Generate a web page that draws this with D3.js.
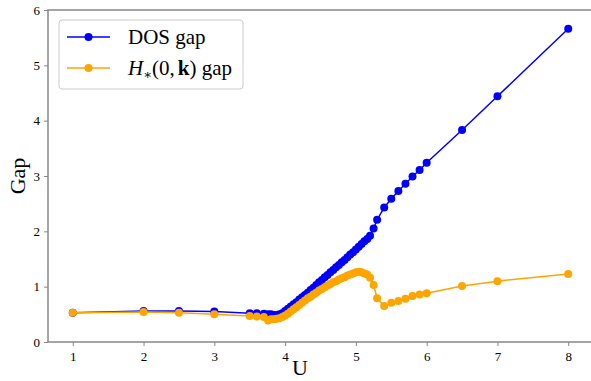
<!DOCTYPE html>
<html>
<head>
<meta charset="utf-8">
<script src="https://cdn.jsdelivr.net/npm/d3@7"></script>
<style>
  body { margin: 0; background: #fff; }
  svg { display: block; }
</style>
</head>
<body>
<svg id="chart" width="591" height="381"></svg>
<script>
// U values (x axis)
const uValues = [1, 2, 2.5, 3, 3.5, 3.6, 3.7,
  3.76, 3.80, 3.84, 3.88, 3.92, 3.96, 4.00, 4.04, 4.08, 4.12, 4.16, 4.20,
  4.24, 4.28, 4.32, 4.36, 4.40, 4.44, 4.48, 4.52, 4.56, 4.60, 4.64, 4.68,
  4.72, 4.76, 4.80, 4.84, 4.88, 4.92, 4.96, 5.00, 5.04, 5.08, 5.12, 5.16,
  5.20, 5.25, 5.30, 5.40, 5.5, 5.6, 5.7, 5.8, 5.9, 6.0, 6.5, 7, 8];

// DOS gap
const dosGap = [0.53, 0.56, 0.56, 0.55, 0.52, 0.52, 0.51,
  0.50, 0.50, 0.49, 0.49, 0.50, 0.52, 0.56, 0.60, 0.64, 0.68, 0.72, 0.77,
  0.81, 0.85, 0.89, 0.94, 0.98, 1.03, 1.08, 1.12, 1.17, 1.21, 1.26, 1.30,
  1.35, 1.39, 1.44, 1.48, 1.53, 1.58, 1.62, 1.67, 1.72, 1.77, 1.82, 1.86,
  1.92, 2.05, 2.21, 2.43, 2.59, 2.73, 2.86, 2.99, 3.11, 3.24, 3.83, 4.44, 5.66];

// H*(0,k) gap
const hGap = [0.53, 0.54, 0.53, 0.50, 0.47, 0.46, 0.45,
  0.39, 0.41, 0.41, 0.42, 0.43, 0.45, 0.48, 0.51, 0.55, 0.59, 0.63, 0.67,
  0.71, 0.75, 0.79, 0.82, 0.86, 0.89, 0.93, 0.96, 0.99, 1.02, 1.05, 1.08,
  1.10, 1.13, 1.15, 1.17, 1.20, 1.22, 1.24, 1.26, 1.27, 1.26, 1.24, 1.22,
  1.16, 1.03, 0.79, 0.65, 0.71, 0.74, 0.78, 0.83, 0.86, 0.88, 1.01, 1.10, 1.23];

const xTicks = [1, 2, 3, 4, 5, 6, 7, 8];
const yTicks = [0, 1, 2, 3, 4, 5, 6];

const seriesNames = ["DOS gap", "H*(0,k) gap"];
const seriesColors = ["#0000ff", "#ffa500"];

const svg = d3.select("#chart");
const serif = "Liberation Serif, DejaVu Serif, serif";

// plot area (right edge runs past the window, like the original)
const plot = { left: 48, right: 593, top: 10, bottom: 342 };

const xScale = d3.scaleLinear().domain([0.65, 8.35]).range([plot.left, plot.right]);
const yScale = d3.scaleLinear().domain([0, 6]).range([plot.bottom, plot.top]);

// frame
svg.append("rect")
  .attr("x", plot.left).attr("y", plot.top)
  .attr("width", plot.right - plot.left).attr("height", plot.bottom - plot.top)
  .attr("fill", "none")
  .attr("stroke", "#888")
  .attr("stroke-width", 1.5);

// axes
const xAxis = svg.append("g")
  .attr("transform", "translate(0," + plot.bottom + ")")
  .call(d3.axisBottom(xScale).tickValues(xTicks).tickSize(4).tickPadding(6).tickFormat(d3.format("d")));
const yAxis = svg.append("g")
  .attr("transform", "translate(" + plot.left + ",0)")
  .call(d3.axisLeft(yScale).tickValues(yTicks).tickSize(4).tickPadding(4).tickFormat(d3.format("d")));
[xAxis, yAxis].forEach(a => {
  a.attr("font-family", serif).attr("font-size", 13);
  a.select(".domain").remove();
  a.selectAll(".tick line").attr("stroke", "#888").attr("stroke-width", 1);
  a.selectAll(".tick text").attr("fill", "#000");
});

// axis labels
svg.append("text")
  .attr("x", 300)
  .attr("y", 375)
  .attr("text-anchor", "middle")
  .attr("font-family", serif)
  .attr("font-size", 22)
  .text("U");

svg.append("text")
  .attr("transform", "translate(25," + ((plot.top + plot.bottom) / 2) + ") rotate(-90)")
  .attr("text-anchor", "middle")
  .attr("font-family", serif)
  .attr("font-size", 22)
  .text("Gap");

// lines + markers
const line = d3.line()
  .x((d, i) => xScale(uValues[i]))
  .y(d => yScale(d));

[dosGap, hGap].forEach((vals, s) => {
  const g = svg.append("g");
  g.append("path")
    .datum(vals)
    .attr("fill", "none")
    .attr("stroke", seriesColors[s])
    .attr("stroke-width", 1.5)
    .attr("d", line);
  g.selectAll("circle")
    .data(vals)
    .enter()
    .append("circle")
    .attr("cx", (d, i) => xScale(uValues[i]))
    .attr("cy", d => yScale(d))
    .attr("r", 4)
    .attr("fill", seriesColors[s]);
});

// legend
const legend = svg.append("g").attr("transform", "translate(59,20)");
legend.append("rect")
  .attr("width", 184).attr("height", 69)
  .attr("rx", 3)
  .attr("fill", "#fff")
  .attr("fill-opacity", 0.8)
  .attr("stroke", "#ccc");

const items = legend.selectAll("g.item")
  .data(seriesNames)
  .enter()
  .append("g")
  .attr("class", "item")
  .attr("transform", (d, i) => "translate(0," + (17 + i * 31) + ")");

items.append("line")
  .attr("x1", 8).attr("x2", 51)
  .attr("stroke", (d, i) => seriesColors[i])
  .attr("stroke-width", 1.5);
items.append("circle")
  .attr("cx", 29.5).attr("r", 4)
  .attr("fill", (d, i) => seriesColors[i]);

const labels = items.append("text")
  .attr("x", 69).attr("y", 7)
  .attr("font-family", serif)
  .attr("font-size", 21);

labels.filter((d, i) => i === 0).text(d => d);

const hLabel = labels.filter((d, i) => i === 1);
hLabel.append("tspan").attr("font-style", "italic").text("H");
hLabel.append("tspan").attr("dy", 4).attr("font-size", 13).text("\u2217");
hLabel.append("tspan").attr("dy", -4).text("(0,");
hLabel.append("tspan").attr("dx", 3).attr("font-weight", "bold").text("k");
hLabel.append("tspan").text(") gap");
</script>
</body>
</html>
